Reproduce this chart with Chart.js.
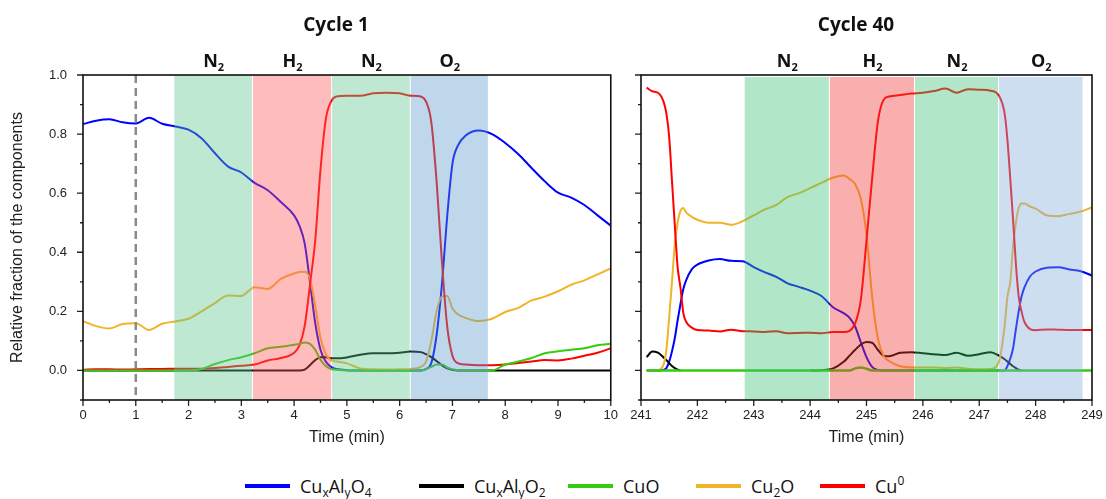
<!DOCTYPE html>
<html>
<head>
<meta charset="utf-8">
<script src="https://cdn.jsdelivr.net/npm/chart.js@4.4.1/dist/chart.umd.min.js"></script>
<style>
  body { margin: 0; background: #fff; width: 1106px; height: 499px; position: relative; overflow: hidden; font-family: 'Open Sans', sans-serif; }
  .panel { position: absolute; top: 0; height: 450px; }
  #left { left: 0; width: 620px; }
  #right { left: 620px; width: 486px; }
  #legend { position: absolute; top: 474px; left: 0; width: 1106px; height: 26px; font-size: 18px; color: #111; }
  .item { position: absolute; top: 0; display: flex; align-items: center; white-space: nowrap; }
  .item:nth-child(1) { left: 245px; }
  .item:nth-child(2) { left: 419px; }
  .item:nth-child(3) { left: 568px; }
  .item:nth-child(4) { left: 696px; }
  .item:nth-child(5) { left: 820px; }
  .sw { display: inline-block; width: 45px; height: 4px; margin-right: 10px; }
  sub { font-size: 12px; vertical-align: -4px; line-height: 0; }
  sup { font-size: 12px; vertical-align: 8px; line-height: 0; }
</style>
</head>
<body>
<div class="panel" id="left"><canvas id="c1" width="620" height="450"></canvas></div>
<div class="panel" id="right"><canvas id="c40" width="486" height="450"></canvas></div>
<div id="legend"></div>
<script>
// ---- data ----
const seriesNames = ['Cu<sub>x</sub>Al<sub>y</sub>O<sub>4</sub>', 'Cu<sub>x</sub>Al<sub>y</sub>O<sub>2</sub>', 'CuO', 'Cu<sub>2</sub>O', 'Cu<sup>0</sup>'];
const seriesColors = ['#0000ff', '#000000', '#33cc11', '#f0b429', '#ff0000'];
const gases = ['N', 'H', 'N', 'O'];

// Cycle 1 (min)
const timeC1 = [0, 0.25, 0.5, 0.75, 1, 1.25, 1.5, 1.75, 2, 2.25, 2.5, 2.75, 3, 3.25, 3.5, 3.75, 4, 4.1, 4.2, 4.3,
  4.4, 4.5, 4.6, 4.7, 4.8, 5, 5.25, 5.5, 5.75, 6, 6.2, 6.4, 6.5, 6.6, 6.7, 6.8, 6.9, 7, 7.1, 7.25,
  7.5, 7.75, 8, 8.25, 8.5, 8.75, 9, 9.25, 9.5, 9.75, 10];
const spinelC1 = [0.834, 0.845, 0.85, 0.84, 0.836, 0.855, 0.835, 0.826, 0.815, 0.785, 0.735, 0.69, 0.67, 0.635, 0.61, 0.57, 0.525, 0.49, 0.43, 0.30,
  0.16, 0.07, 0.03, 0.012, 0.005, 0.001, 0, 0, 0, 0, 0, 0, 0.005, 0.025, 0.12, 0.29, 0.52, 0.70, 0.76, 0.795,
  0.812, 0.80, 0.77, 0.732, 0.685, 0.64, 0.602, 0.585, 0.56, 0.525, 0.49];
const delafossiteC1 = [0, 0, 0, 0, 0, 0, 0, 0, 0, 0, 0, 0, 0, 0, 0, 0, 0, 0, 0.003, 0.018,
  0.035, 0.045, 0.045, 0.041, 0.041, 0.044, 0.053, 0.058, 0.058, 0.06, 0.064, 0.062, 0.055, 0.045, 0.032, 0.018, 0.007, 0.002, 0, 0,
  0, 0, 0, 0, 0, 0, 0, 0, 0, 0, 0];
const cuoC1 = [0, 0, 0, 0, 0, 0, 0, 0, 0, 0.005, 0.022, 0.035, 0.045, 0.058, 0.075, 0.08, 0.087, 0.09, 0.095, 0.09,
  0.07, 0.036, 0.015, 0.005, 0.002, 0, 0, 0, 0, 0, 0, 0, 0.005, 0.012, 0.02, 0.02, 0.01, 0.004, 0.001, 0,
  0, 0, 0.02, 0.03, 0.042, 0.058, 0.065, 0.07, 0.075, 0.085, 0.09];
const cu2oC1 = [0.167, 0.15, 0.142, 0.157, 0.16, 0.137, 0.158, 0.166, 0.175, 0.2, 0.228, 0.254, 0.252, 0.282, 0.276, 0.31, 0.328, 0.333, 0.334, 0.31,
  0.22, 0.11, 0.055, 0.035, 0.03, 0.024, 0.007, 0.004, 0.003, 0.004, 0.005, 0.012, 0.03, 0.1, 0.2, 0.25, 0.252, 0.21, 0.19, 0.178,
  0.167, 0.175, 0.198, 0.212, 0.237, 0.25, 0.268, 0.29, 0.305, 0.325, 0.345];
const cuC1 = [0.002, 0.004, 0.004, 0.003, 0.004, 0.005, 0.005, 0.006, 0.006, 0.006, 0.008, 0.012, 0.016, 0.02, 0.034, 0.042, 0.06, 0.085, 0.15, 0.29,
  0.44, 0.68, 0.85, 0.91, 0.927, 0.93, 0.93, 0.938, 0.94, 0.938, 0.93, 0.927, 0.91, 0.84, 0.64, 0.37, 0.15, 0.05, 0.025, 0.02,
  0.018, 0.018, 0.02, 0.025, 0.03, 0.035, 0.034, 0.04, 0.05, 0.06, 0.075];
const bandEdgesC1 = [1.73, 3.22, 4.72, 6.21, 7.69];
const markerC1 = 1;

// Cycle 40 (min)
const timeC40 = [241.1, 241.2, 241.3, 241.4, 241.45, 241.5, 241.55, 241.6, 241.65, 241.7, 241.75, 241.8, 241.9, 242, 242.2, 242.4, 242.6, 242.8, 243, 243.2,
  243.4, 243.6, 243.8, 244, 244.2, 244.4, 244.6, 244.7, 244.8, 244.9, 245, 245.1, 245.2, 245.3, 245.4, 245.6, 245.8, 246, 246.2, 246.4,
  246.6, 246.8, 247, 247.2, 247.35, 247.45, 247.5, 247.55, 247.6, 247.65, 247.7, 247.75, 247.8, 247.9, 248, 248.2, 248.4, 248.6, 248.8, 249];
const spinelC40 = [0, 0, 0, 0.002, 0.008, 0.03, 0.065, 0.11, 0.17, 0.225, 0.275, 0.305, 0.342, 0.358, 0.372, 0.377, 0.371, 0.37, 0.35, 0.332,
  0.317, 0.295, 0.283, 0.27, 0.252, 0.215, 0.193, 0.178, 0.148, 0.095, 0.045, 0.012, 0.002, 0, 0, 0, 0, 0, 0, 0,
  0, 0, 0, 0, 0, 0, 0.015, 0.04, 0.075, 0.14, 0.2, 0.25, 0.28, 0.318, 0.335, 0.348, 0.349, 0.342, 0.336, 0.321];
const delafossiteC40 = [0.045, 0.064, 0.06, 0.044, 0.035, 0.025, 0.015, 0.008, 0.003, 0, null, null, null, null, null, null, null, null, null, null,
  null, null, null, 0, 0.001, 0.006, 0.03, 0.05, 0.07, 0.088, 0.096, 0.094, 0.07, 0.05, 0.048, 0.06, 0.062, 0.058, 0.055, 0.052,
  0.06, 0.05, 0.055, 0.062, 0.05, 0.038, 0.03, 0.022, 0.014, 0.008, 0.003, 0, null, null, null, null, null, null, null, null];
const cuoC40 = [0, 0, 0, 0, 0, 0, 0, 0, 0, 0, 0, 0, 0, 0, 0, 0, 0, 0, 0, 0,
  0, 0, 0, 0, 0, 0, 0, 0, 0.007, 0.01, 0.006, 0, 0, 0, 0, 0, 0, 0, 0, 0,
  0, 0, 0, 0, 0, 0, 0, 0, 0, 0, 0, 0, 0, 0, 0, 0, 0, 0, 0, 0];
const cu2oC40 = [0, 0, 0.002, 0.02, 0.07, 0.18, 0.3, 0.43, 0.5, 0.54, 0.55, 0.535, 0.52, 0.51, 0.50, 0.50, 0.493, 0.505, 0.525, 0.545,
  0.56, 0.587, 0.6, 0.617, 0.635, 0.652, 0.66, 0.648, 0.63, 0.58, 0.46, 0.25, 0.11, 0.05, 0.032, 0.014, 0.01, 0.01, 0.01, 0.008,
  0.01, 0.006, 0.004, 0.005, 0.03, 0.15, 0.25, 0.3, 0.42, 0.5, 0.55, 0.565, 0.565, 0.555, 0.548, 0.525, 0.522, 0.53, 0.538, 0.552];
const cuC40 = [0.957, 0.945, 0.94, 0.91, 0.87, 0.79, 0.64, 0.49, 0.35, 0.28, 0.195, 0.165, 0.145, 0.137, 0.135, 0.132, 0.138, 0.133, 0.132, 0.13,
  0.133, 0.126, 0.127, 0.128, 0.126, 0.13, 0.13, 0.134, 0.16, 0.24, 0.44, 0.65, 0.84, 0.915, 0.927, 0.932, 0.937, 0.94, 0.946, 0.954,
  0.94, 0.952, 0.95, 0.947, 0.93, 0.87, 0.78, 0.65, 0.51, 0.36, 0.25, 0.2, 0.165, 0.14, 0.136, 0.139, 0.138, 0.137, 0.137, 0.137];
const bandEdgesC40 = [242.84, 244.35, 245.86, 247.35, 248.85];

// ---- legend ----
const legend = document.getElementById('legend');
seriesNames.forEach((name, i) => {
  const it = document.createElement('div');
  it.className = 'item';
  it.innerHTML = '<span class="sw" style="background:' + seriesColors[i] + '"></span><span>' + name + '</span>';
  legend.appendChild(it);
});

// ---- drawing helpers ----
const tickFont = { family: 'Liberation Sans, Arial, sans-serif', size: 13 };

function drawGas(ctx, letter, cx, base) {
  ctx.font = 'bold 18px "Open Sans"';
  const w1 = ctx.measureText(letter).width;
  ctx.font = 'bold 11px "Open Sans"';
  const w2 = ctx.measureText('2').width;
  const x0 = cx - (w1 + w2) / 2;
  ctx.textAlign = 'left';
  ctx.fillStyle = '#111';
  ctx.font = 'bold 18px "Open Sans"';
  ctx.fillText(letter, x0, base);
  ctx.font = 'bold 11px "Open Sans"';
  ctx.fillText('2', x0 + w1, base + 4);
}

const decor = {
  id: 'decor',
  afterDatasetsDraw(chart, args, o) {
    const { ctx, chartArea: a, scales: { x, y } } = chart;
    ctx.save();
    // gas atmosphere bands, drawn translucent over the curves
    for (let i = 0; i < o.edges.length - 1; i++) {
      const x0 = x.getPixelForValue(o.edges[i]);
      const x1 = x.getPixelForValue(o.edges[i + 1]);
      ctx.fillStyle = o.bandColors[i];
      ctx.fillRect(x0, a.top + o.inset, x1 - x0 - 1, a.bottom - a.top - o.inset);
      drawGas(ctx, gases[i], (x0 + x1) / 2, 67);
    }
    if (o.marker != null) {
      const mx = x.getPixelForValue(o.marker);
      ctx.strokeStyle = '#8a8a8a';
      ctx.lineWidth = 2.5;
      ctx.setLineDash([8, 5]);
      ctx.beginPath();
      ctx.moveTo(mx, a.top);
      ctx.lineTo(mx, a.bottom);
      ctx.stroke();
      ctx.setLineDash([]);
    }
    // ticks
    ctx.strokeStyle = '#222';
    ctx.lineWidth = 1.3;
    ctx.beginPath();
    x.ticks.forEach(t => {
      const px = x.getPixelForValue(t.value);
      const major = Math.abs(t.value - Math.round(t.value)) < 1e-6;
      ctx.moveTo(px, a.bottom);
      ctx.lineTo(px, a.bottom + (major ? 6 : 3));
    });
    y.ticks.forEach(t => {
      const py = y.getPixelForValue(t.value);
      const major = Math.round(t.value * 10) % 2 === 0;
      ctx.moveTo(a.left, py);
      ctx.lineTo(a.left - (major ? 6 : 3), py);
    });
    ctx.stroke();
    // frame
    ctx.strokeStyle = '#111';
    ctx.lineWidth = 1.6;
    ctx.strokeRect(a.left, a.top, a.right - a.left, a.bottom - a.top);
    // panel title
    ctx.fillStyle = '#111';
    ctx.textAlign = 'center';
    ctx.font = 'bold 19px "Open Sans"';
    ctx.fillText(o.title, o.titleX, 31);
    ctx.restore();
  }
};

function makeDatasets(times, list, greenWidth) {
  return list.map((vals, i) => ({
    label: seriesNames[i],
    data: times.map((t, k) => ({ x: t, y: vals[k] })),
    borderColor: seriesColors[i],
    borderWidth: i === 2 ? greenWidth : 2,
    pointRadius: 0,
    cubicInterpolationMode: 'monotone',
    spanGaps: false,
    order: i === 2 ? 0 : 5 - i
  }));
}

function makeChart(id, cfg) {
  return new Chart(document.getElementById(id), {
    type: 'line',
    data: { datasets: cfg.datasets },
    plugins: [decor],
    options: {
      responsive: false,
      animation: false,
      devicePixelRatio: 1,
      layout: { padding: { top: 75, right: cfg.padRight, left: 0, bottom: 0 } },
      plugins: {
        legend: { display: false },
        tooltip: { enabled: false },
        decor: cfg.decor
      },
      scales: {
        x: {
          type: 'linear',
          min: cfg.xMin, max: cfg.xMax,
          afterFit: s => { s.height = 50; },
          border: { display: false },
          grid: { display: true, drawOnChartArea: false, drawTicks: true, tickLength: 6, color: 'rgba(0,0,0,0)' },
          ticks: {
            stepSize: 0.5, autoSkip: false, maxRotation: 0, padding: 2,
            color: '#222', font: tickFont,
            callback: v => Math.abs(v - Math.round(v)) < 1e-6 ? String(Math.round(v)) : ''
          },
          title: { display: true, text: 'Time (min)', color: '#222', font: { family: 'Liberation Sans, Arial, sans-serif', size: 16 }, padding: { top: 0, bottom: 3 } }
        },
        y: {
          min: -0.1, max: 1.0,
          afterFit: s => { s.width = cfg.yWidth; },
          border: { display: false },
          grid: { display: true, drawOnChartArea: false, drawTicks: true, tickLength: 6, color: 'rgba(0,0,0,0)' },
          ticks: {
            stepSize: 0.1, autoSkip: false, padding: 10,
            color: '#222', font: tickFont,
            callback: v => {
              const k = Math.round(v * 10);
              return (cfg.yLabels && k >= 0 && k % 2 === 0) ? (k / 10).toFixed(1) : '';
            }
          },
          title: {
            display: cfg.yLabels, text: 'Relative fraction of the components', color: '#222',
            font: { family: 'Liberation Sans, Arial, sans-serif', size: 16 }, padding: { top: 8, bottom: 0 }
          }
        }
      }
    }
  });
}

makeChart('c1', {
  datasets: makeDatasets(timeC1, [spinelC1, delafossiteC1, cuoC1, cu2oC1, cuC1], 2),
  xMin: 0, xMax: 10, padRight: 9, yWidth: 83, yLabels: true,
  decor: {
    edges: bandEdgesC1, inset: 0, marker: markerC1, title: 'Cycle 1', titleX: 336,
    bandColors: ['rgba(92,197,142,0.4)', 'rgba(255,87,87,0.4)', 'rgba(92,197,142,0.4)', 'rgba(92,155,205,0.4)']
  }
});

makeChart('c40', {
  datasets: makeDatasets(timeC40, [spinelC40, delafossiteC40, cuoC40, cu2oC40, cuC40], 2.5),
  xMin: 241, xMax: 249, padRight: 14, yWidth: 21, yLabels: false,
  decor: {
    edges: bandEdgesC40, inset: 2, marker: null, title: 'Cycle 40', titleX: 236,
    bandColors: ['rgba(62,192,117,0.4)', 'rgba(242,55,55,0.4)', 'rgba(62,192,117,0.4)', 'rgba(130,172,217,0.4)']
  }
});
</script>
</body>
</html>
